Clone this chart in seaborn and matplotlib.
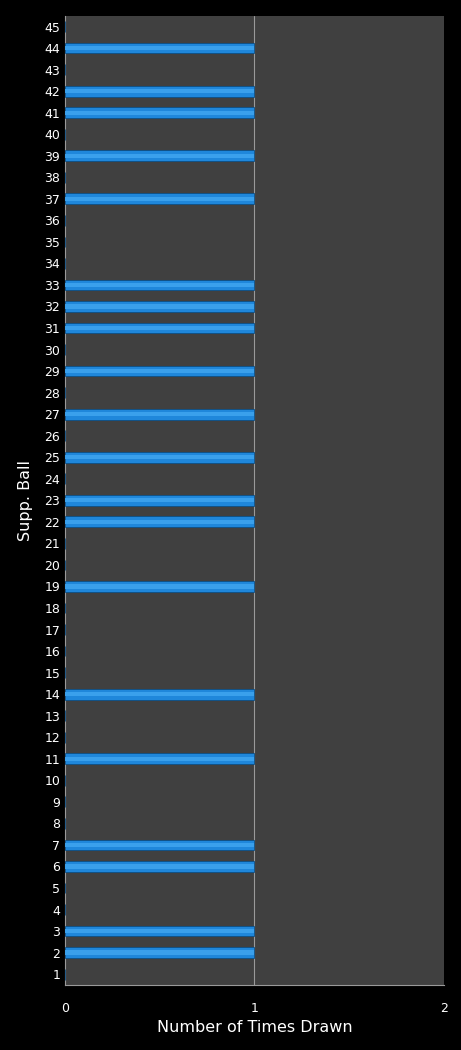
import matplotlib
matplotlib.use("Agg")
import matplotlib.pyplot as plt
import pandas as pd
import seaborn as sns

# supplementary ball numbers and how often each was drawn
balls = list(range(1, 46))
drawn = [2, 3, 6, 7, 11, 14, 19, 22, 23, 25, 27, 29, 31, 32, 33, 37, 39, 41, 42, 44]
counts = [1 if b in drawn else 0 for b in balls]

df = pd.DataFrame({"ball": [str(b) for b in balls], "count": counts})
order = [str(b) for b in reversed(balls)]

sns.set_style("dark")
plt.rcParams["font.family"] = ["DejaVu Sans"]

fig = plt.figure(figsize=(4.61, 10.5), dpi=100, facecolor="black")
ax = fig.add_axes([0.141, 0.062, 0.822, 0.923])
ax.set_facecolor("#404040")

sns.barplot(data=df, x="count", y="ball", order=order, orient="h",
            color="#1f87db", saturation=1, width=0.5,
            edgecolor="#0d4f85", linewidth=0.6, ax=ax, zorder=3)
# lighter core stripe to mimic the glossy bars
sns.barplot(data=df, x="count", y="ball", order=order, orient="h",
            color="#3aa0ec", saturation=1, width=0.2,
            linewidth=0, ax=ax, zorder=4)

ax.set_xlim(0, 2)
ax.set_xticks([0, 1, 2])
ax.grid(False)
ax.axvline(1, color="#9a9a9a", linewidth=0.8, zorder=2)

for side in ["top", "right"]:
    ax.spines[side].set_visible(False)
for side in ["bottom", "left"]:
    ax.spines[side].set_visible(True)
    ax.spines[side].set_color("#9a9a9a")
    ax.spines[side].set_linewidth(0.8)

ax.tick_params(axis="both", colors="white", labelsize=9, length=0)
ax.tick_params(axis="x", pad=12)
ax.set_xlabel("Number of Times Drawn", color="white", fontsize=11.5, labelpad=4)
ax.set_ylabel("Supp. Ball", color="white", fontsize=11.5, labelpad=8)

fig.savefig("out.png", dpi=100, facecolor="black")
